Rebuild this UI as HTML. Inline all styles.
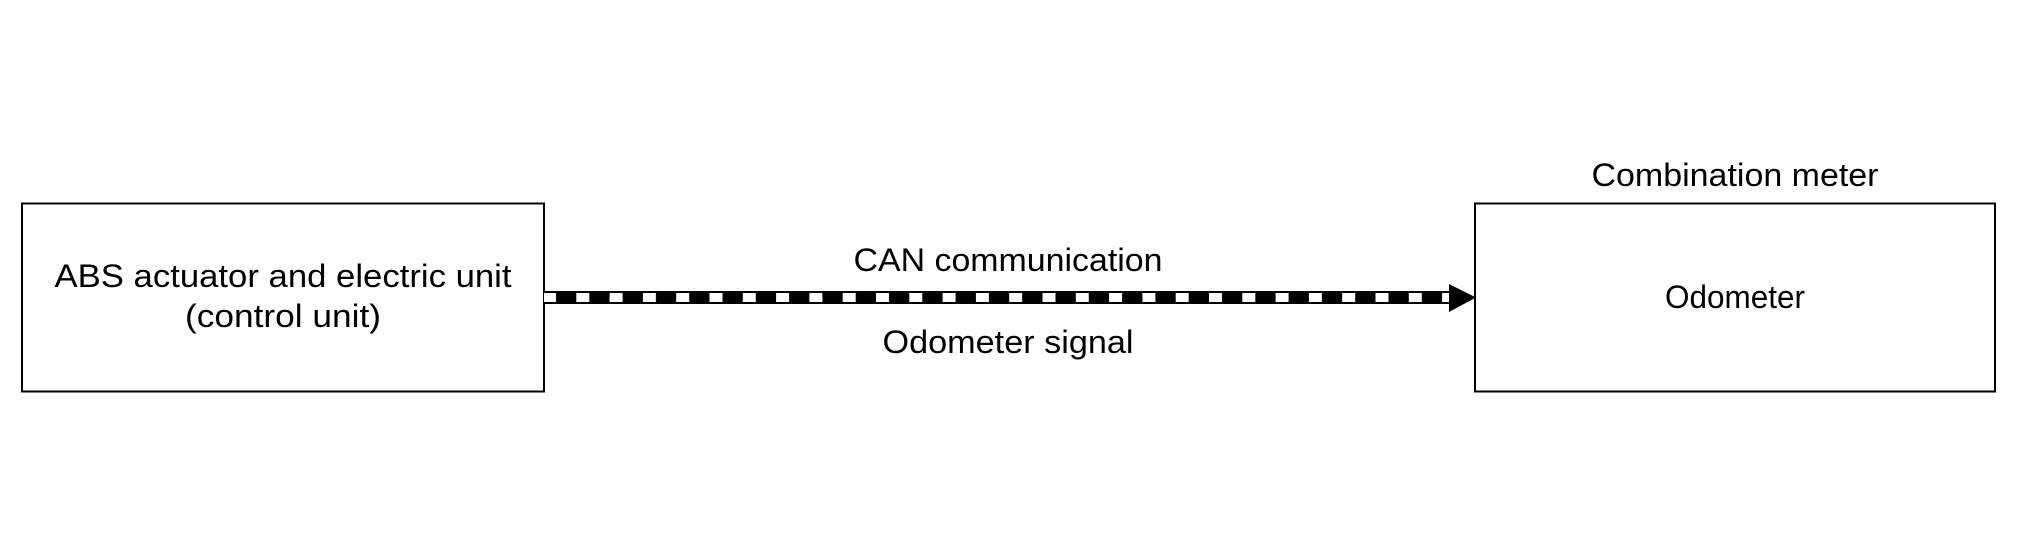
<!DOCTYPE html>
<html><head><meta charset="utf-8"><style>
html,body{margin:0;padding:0;background:#fff;}
svg{display:block;}
text{font-family:"Liberation Sans",Arial,sans-serif;fill:#000;}
</style></head><body>
<svg width="2020" height="544" viewBox="0 0 2020 544" xmlns="http://www.w3.org/2000/svg">
<defs>
<pattern id="d" x="543" y="0" width="33.3" height="544" patternUnits="userSpaceOnUse">
<rect x="0" y="293" width="13" height="9" fill="#fff"/>
</pattern>
</defs>
<rect x="22" y="203.5" width="522" height="188" fill="none" stroke="#000" stroke-width="2"/>
<rect x="1475" y="203.5" width="520" height="188" fill="none" stroke="#000" stroke-width="2"/>
<rect x="544" y="291" width="906" height="13" fill="#000"/>
<rect x="544" y="291" width="906" height="13" fill="url(#d)"/>
<polygon points="1449,284 1476,297.5 1449,312" fill="#000"/>
<text x="283" y="287" font-size="32" text-anchor="middle" textLength="457" lengthAdjust="spacingAndGlyphs">ABS actuator and electric unit</text>
<text x="283" y="327" font-size="32" text-anchor="middle" textLength="196" lengthAdjust="spacingAndGlyphs">(control unit)</text>
<text x="1008" y="271" font-size="32" text-anchor="middle" textLength="309" lengthAdjust="spacingAndGlyphs">CAN communication</text>
<text x="1008" y="353" font-size="32" text-anchor="middle" textLength="251" lengthAdjust="spacingAndGlyphs">Odometer signal</text>
<text x="1735" y="186" font-size="32" text-anchor="middle" textLength="287" lengthAdjust="spacingAndGlyphs">Combination meter</text>
<text x="1735" y="308" font-size="32" text-anchor="middle" textLength="140" lengthAdjust="spacingAndGlyphs">Odometer</text>
</svg>
</body></html>
